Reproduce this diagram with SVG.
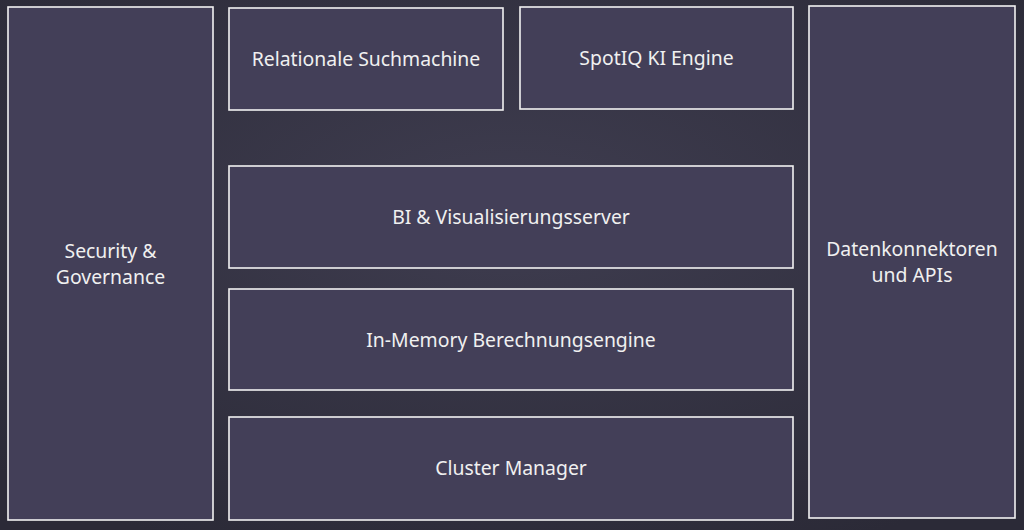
<svg xmlns="http://www.w3.org/2000/svg" width="1024" height="530" viewBox="0 0 1024 530">
<defs>
<radialGradient id="bg" cx="50%" cy="40%" r="70%">
<stop offset="0" stop-color="#3f3d50"/>
<stop offset="1" stop-color="#2b2a37"/>
</radialGradient>
</defs>
<style>
.box{fill:#433f58;stroke:#f2f2f2;stroke-width:1.6}
.t{font-family:"Noto Sans","Open Sans",sans-serif;font-size:19.4px;fill:#f0f0f0;text-anchor:middle}
</style>
<rect width="1024" height="530" fill="url(#bg)"/>
<g id="security">
<rect class="box" x="8" y="7" width="205" height="513"/>
<text class="t" x="110.5" y="258">Security &amp;</text>
<text class="t" x="110.5" y="284">Governance</text>
</g>
<g id="relational">
<rect class="box" x="229" y="8" width="274" height="102"/>
<text class="t" x="366" y="66">Relationale Suchmachine</text>
</g>
<g id="spotiq">
<rect class="box" x="520" y="7" width="273" height="102"/>
<text class="t" x="656.5" y="65">SpotIQ KI Engine</text>
</g>
<g id="bi">
<rect class="box" x="229" y="166" width="564" height="102"/>
<text class="t" x="511" y="224">BI &amp; Visualisierungsserver</text>
</g>
<g id="inmemory">
<rect class="box" x="229" y="289" width="564" height="101"/>
<text class="t" x="511" y="347">In-Memory Berechnungsengine</text>
</g>
<g id="cluster">
<rect class="box" x="229" y="417" width="564" height="103"/>
<text class="t" x="511" y="475">Cluster Manager</text>
</g>
<g id="connectors">
<rect class="box" x="809" y="6" width="206" height="512"/>
<text class="t" x="912" y="256">Datenkonnektoren</text>
<text class="t" x="912" y="282">und APIs</text>
</g>
<g id="edges"/>
</svg>
